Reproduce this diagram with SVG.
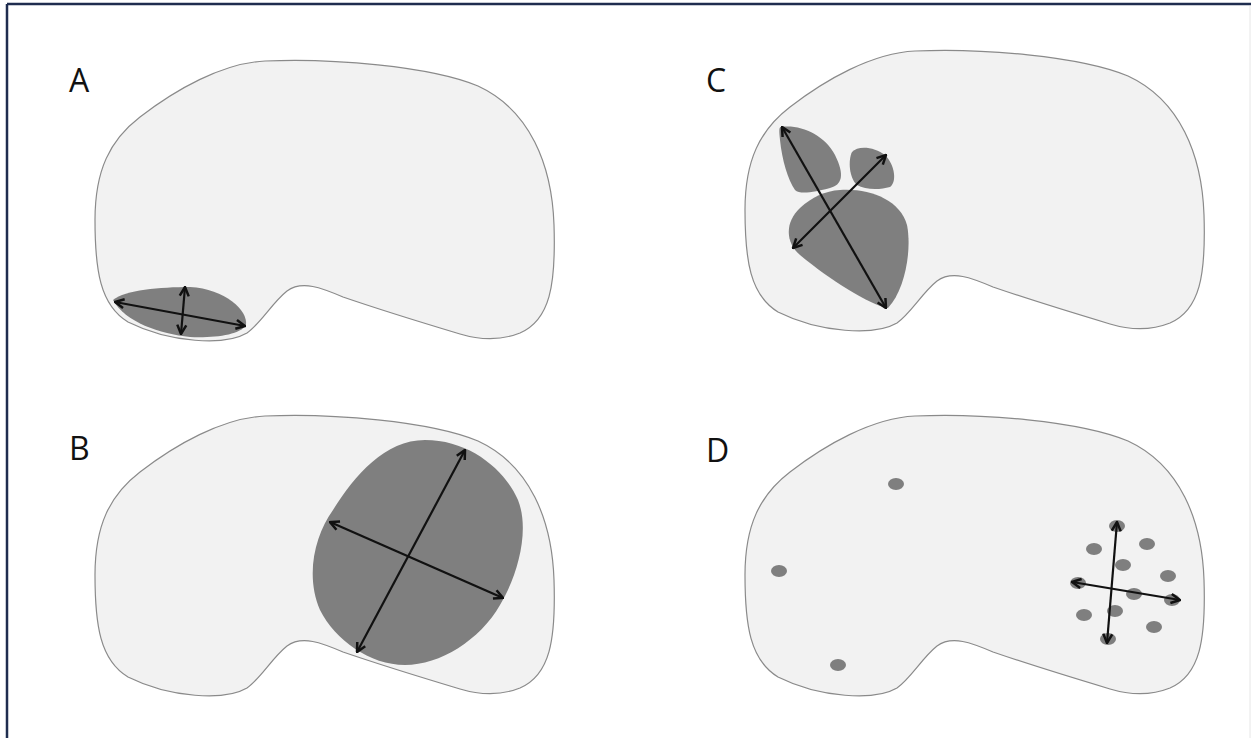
<svg xmlns="http://www.w3.org/2000/svg" width="1251" height="738" viewBox="0 0 1251 738">
<style>
.outline{fill:#f2f2f2;stroke:#8a8a8a;stroke-width:1.2}
.lesion{fill:#7f7f7f;stroke:none}
.dot{fill:#7f7f7f}
.arr{fill:none;stroke:#111;stroke-width:2.2;marker-start:url(#ah);marker-end:url(#ah)}
.lbl{font-family:"Open Sans","Liberation Sans",sans-serif;font-size:32px;fill:#111}
</style>
<defs>
<marker id="ah" viewBox="0 0 12 12" refX="11" refY="6" markerWidth="12" markerHeight="12" markerUnits="userSpaceOnUse" orient="auto-start-reverse">
<path d="M2,1.5 L11,6 L2,10.5" fill="none" stroke="#111" stroke-width="2.5" stroke-linejoin="miter"/>
</marker>
<path id="organ" d="M265,61 C330,58 430,66 478,86 C530,110 552,165 554,225 C556,285 550,320 520,333 C500,341 480,340 460,334 C420,322 375,308 343,297 C322,288 302,280 287,291 C272,303 261,323 247,333 C225,346 170,343 128,322 C100,305 95,270 95,220 C95,170 110,140 140,117 C175,90 222,63 265,61 Z"/>
</defs>
<rect x="0" y="0" width="1251" height="738" fill="#ffffff"/>
<g id="frame">
<line x1="7" y1="4" x2="1251" y2="4" stroke="#1f2d4f" stroke-width="2.5"/>
<line x1="7" y1="4" x2="7" y2="738" stroke="#1f2d4f" stroke-width="2.5"/>
<line x1="1250" y1="6" x2="1250" y2="738" stroke="#e6e6e6" stroke-width="1"/>
</g>
<g id="panel-A">
<use href="#organ" class="outline"/>
<path class="lesion" d="M113,300 C125,290 160,287 190,287 C225,289 248,310 246,325 C240,335 215,338 190,337 C160,334 125,322 113,300 Z"/>
<text class="lbl" x="69" y="92">A</text>
</g>
<g id="panel-B">
<use href="#organ" class="outline" transform="translate(0,355)"/>
<path class="lesion" d="M425,440 C470,440 505,470 518,500 C530,530 518,575 500,605 C480,640 440,665 405,665 C370,665 335,640 320,610 C305,575 315,535 333,510 C355,475 385,440 425,440 Z"/>
<text class="lbl" x="69" y="460">B</text>
</g>
<g id="panel-C">
<use href="#organ" class="outline" transform="translate(650,-10)"/>
<path class="lesion" d="M781,127 C800,124 825,135 835,155 C845,175 842,185 830,188 C815,192 800,195 795,190 C788,180 782,160 780,140 C779,130 779,127 781,127 Z"/>
<path class="lesion" d="M852,152 C858,145 875,147 885,155 C895,165 897,182 890,187 C880,190 865,190 857,185 C849,178 848,160 852,152 Z"/>
<path class="lesion" d="M840,190 C870,188 900,200 907,225 C912,250 905,290 888,308 C870,305 830,280 800,255 C785,242 785,222 800,208 C812,197 825,191 840,190 Z"/>
<text class="lbl" x="706" y="92">C</text>
</g>
<g id="panel-D">
<use href="#organ" class="outline" transform="translate(650,355)"/>
<ellipse class="dot" cx="896" cy="484" rx="8" ry="6"/>
<ellipse class="dot" cx="779" cy="571" rx="8" ry="6"/>
<ellipse class="dot" cx="838" cy="665" rx="8" ry="6"/>
<ellipse class="dot" cx="1117" cy="526" rx="8" ry="6"/>
<ellipse class="dot" cx="1094" cy="549" rx="8" ry="6"/>
<ellipse class="dot" cx="1147" cy="544" rx="8" ry="6"/>
<ellipse class="dot" cx="1123" cy="565" rx="8" ry="6"/>
<ellipse class="dot" cx="1168" cy="576" rx="8" ry="6"/>
<ellipse class="dot" cx="1078" cy="583" rx="8" ry="6"/>
<ellipse class="dot" cx="1134" cy="594" rx="8" ry="6"/>
<ellipse class="dot" cx="1172" cy="600" rx="8" ry="6"/>
<ellipse class="dot" cx="1084" cy="615" rx="8" ry="6"/>
<ellipse class="dot" cx="1115" cy="611" rx="8" ry="6"/>
<ellipse class="dot" cx="1154" cy="627" rx="8" ry="6"/>
<ellipse class="dot" cx="1108" cy="639" rx="8" ry="6"/>
<text class="lbl" x="706" y="462">D</text>
</g>
<g id="connectors">
<line class="arr" x1="115" y1="302" x2="245" y2="326"/>
<line class="arr" x1="185" y1="287" x2="181" y2="334"/>
<line class="arr" x1="465" y1="450" x2="357" y2="652"/>
<line class="arr" x1="330" y1="522" x2="503" y2="598"/>
<line class="arr" x1="782" y1="127" x2="886" y2="308"/>
<line class="arr" x1="886" y1="155" x2="793" y2="248"/>
<line class="arr" x1="1117" y1="522" x2="1107" y2="643"/>
<line class="arr" x1="1072" y1="582" x2="1180" y2="600"/>
</g>
</svg>
